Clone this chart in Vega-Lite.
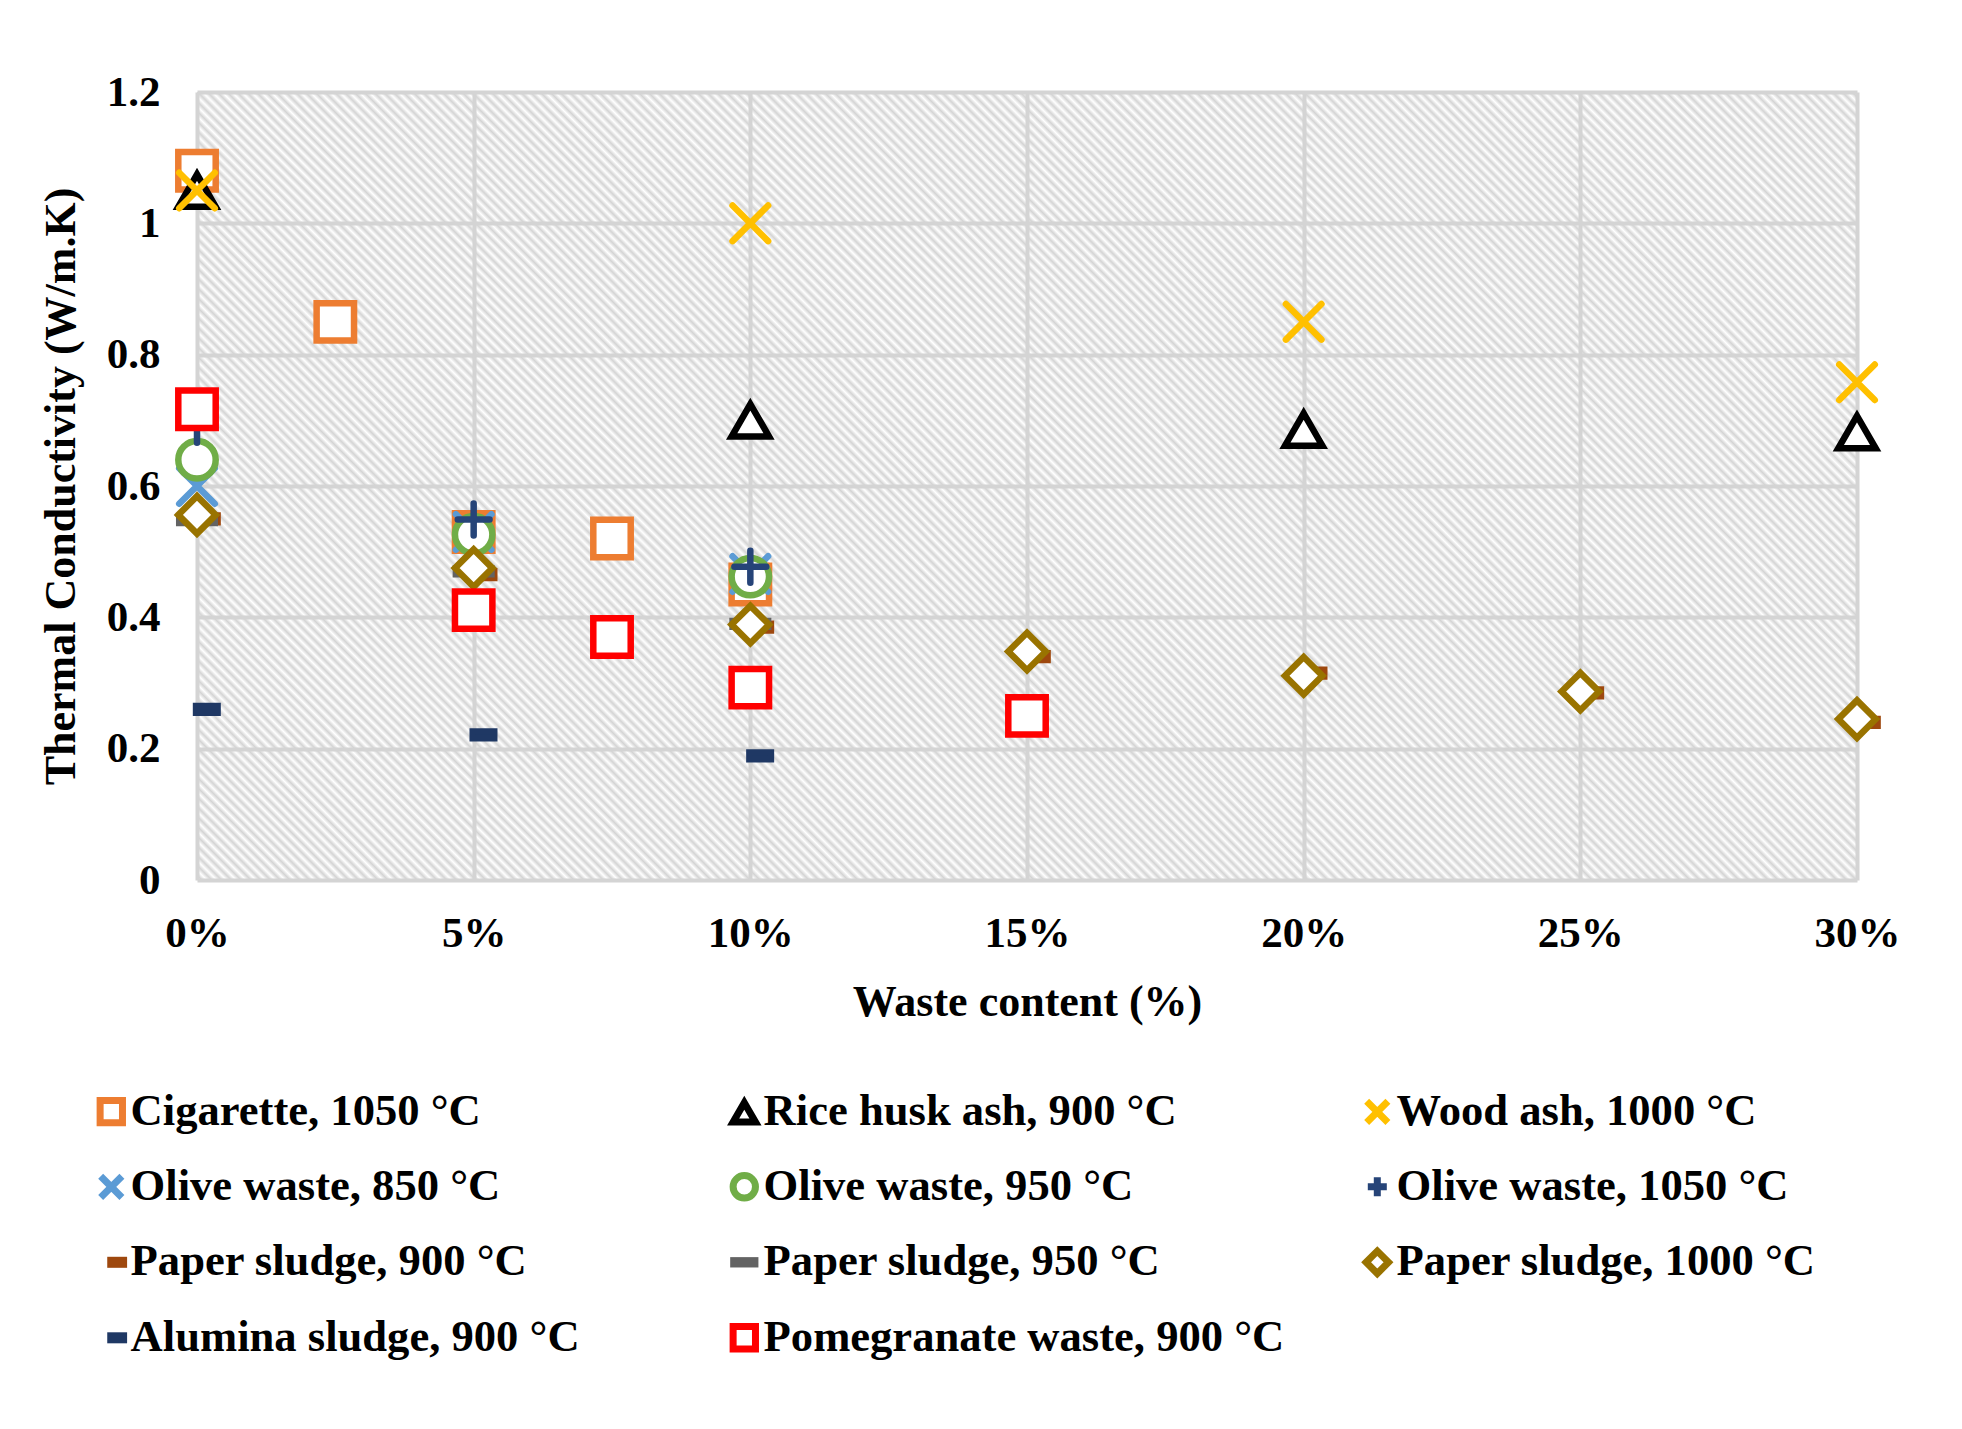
{
"$schema":"https://vega.github.io/schema/vega-lite/v6.json",
"autosize":{"type":"none"},
"padding":{"left":197,"top":92,"right":105,"bottom":549},
"width":1660,
"height":788,
"background":"#ffffff",
"view":{"stroke":null,"fill":{"gradient":"linear","x1":0,"y1":1,"x2":1.2035,"y2":0.429,"stops":[
{"offset":0.000,"color":"#fff"},{"offset":0.002,"color":"#d4d4d4"},{"offset":0.004,"color":"#fff"},{"offset":0.006,"color":"#d4d4d4"},{"offset":0.008,"color":"#fff"},
{"offset":0.010,"color":"#d4d4d4"},{"offset":0.012,"color":"#fff"},{"offset":0.014,"color":"#d4d4d4"},{"offset":0.016,"color":"#fff"},{"offset":0.018,"color":"#d4d4d4"},
{"offset":0.020,"color":"#fff"},{"offset":0.022,"color":"#d4d4d4"},{"offset":0.024,"color":"#fff"},{"offset":0.026,"color":"#d4d4d4"},{"offset":0.028,"color":"#fff"},
{"offset":0.030,"color":"#d4d4d4"},{"offset":0.032,"color":"#fff"},{"offset":0.034,"color":"#d4d4d4"},{"offset":0.036,"color":"#fff"},{"offset":0.038,"color":"#d4d4d4"},
{"offset":0.040,"color":"#fff"},{"offset":0.042,"color":"#d4d4d4"},{"offset":0.044,"color":"#fff"},{"offset":0.046,"color":"#d4d4d4"},{"offset":0.048,"color":"#fff"},
{"offset":0.050,"color":"#d4d4d4"},{"offset":0.052,"color":"#fff"},{"offset":0.054,"color":"#d4d4d4"},{"offset":0.056,"color":"#fff"},{"offset":0.058,"color":"#d4d4d4"},
{"offset":0.060,"color":"#fff"},{"offset":0.062,"color":"#d4d4d4"},{"offset":0.064,"color":"#fff"},{"offset":0.066,"color":"#d4d4d4"},{"offset":0.068,"color":"#fff"},
{"offset":0.070,"color":"#d4d4d4"},{"offset":0.072,"color":"#fff"},{"offset":0.074,"color":"#d4d4d4"},{"offset":0.076,"color":"#fff"},{"offset":0.078,"color":"#d4d4d4"},
{"offset":0.080,"color":"#fff"},{"offset":0.082,"color":"#d4d4d4"},{"offset":0.084,"color":"#fff"},{"offset":0.086,"color":"#d4d4d4"},{"offset":0.088,"color":"#fff"},
{"offset":0.090,"color":"#d4d4d4"},{"offset":0.092,"color":"#fff"},{"offset":0.094,"color":"#d4d4d4"},{"offset":0.096,"color":"#fff"},{"offset":0.098,"color":"#d4d4d4"},
{"offset":0.100,"color":"#fff"},{"offset":0.102,"color":"#d4d4d4"},{"offset":0.104,"color":"#fff"},{"offset":0.106,"color":"#d4d4d4"},{"offset":0.108,"color":"#fff"},
{"offset":0.110,"color":"#d4d4d4"},{"offset":0.112,"color":"#fff"},{"offset":0.114,"color":"#d4d4d4"},{"offset":0.116,"color":"#fff"},{"offset":0.118,"color":"#d4d4d4"},
{"offset":0.120,"color":"#fff"},{"offset":0.122,"color":"#d4d4d4"},{"offset":0.124,"color":"#fff"},{"offset":0.126,"color":"#d4d4d4"},{"offset":0.128,"color":"#fff"},
{"offset":0.130,"color":"#d4d4d4"},{"offset":0.132,"color":"#fff"},{"offset":0.134,"color":"#d4d4d4"},{"offset":0.136,"color":"#fff"},{"offset":0.138,"color":"#d4d4d4"},
{"offset":0.140,"color":"#fff"},{"offset":0.142,"color":"#d4d4d4"},{"offset":0.144,"color":"#fff"},{"offset":0.146,"color":"#d4d4d4"},{"offset":0.148,"color":"#fff"},
{"offset":0.150,"color":"#d4d4d4"},{"offset":0.152,"color":"#fff"},{"offset":0.154,"color":"#d4d4d4"},{"offset":0.156,"color":"#fff"},{"offset":0.158,"color":"#d4d4d4"},
{"offset":0.160,"color":"#fff"},{"offset":0.162,"color":"#d4d4d4"},{"offset":0.164,"color":"#fff"},{"offset":0.166,"color":"#d4d4d4"},{"offset":0.168,"color":"#fff"},
{"offset":0.170,"color":"#d4d4d4"},{"offset":0.172,"color":"#fff"},{"offset":0.174,"color":"#d4d4d4"},{"offset":0.176,"color":"#fff"},{"offset":0.178,"color":"#d4d4d4"},
{"offset":0.180,"color":"#fff"},{"offset":0.182,"color":"#d4d4d4"},{"offset":0.184,"color":"#fff"},{"offset":0.186,"color":"#d4d4d4"},{"offset":0.188,"color":"#fff"},
{"offset":0.190,"color":"#d4d4d4"},{"offset":0.192,"color":"#fff"},{"offset":0.194,"color":"#d4d4d4"},{"offset":0.196,"color":"#fff"},{"offset":0.198,"color":"#d4d4d4"},
{"offset":0.200,"color":"#fff"},{"offset":0.202,"color":"#d4d4d4"},{"offset":0.204,"color":"#fff"},{"offset":0.206,"color":"#d4d4d4"},{"offset":0.208,"color":"#fff"},
{"offset":0.210,"color":"#d4d4d4"},{"offset":0.212,"color":"#fff"},{"offset":0.214,"color":"#d4d4d4"},{"offset":0.216,"color":"#fff"},{"offset":0.218,"color":"#d4d4d4"},
{"offset":0.220,"color":"#fff"},{"offset":0.222,"color":"#d4d4d4"},{"offset":0.224,"color":"#fff"},{"offset":0.226,"color":"#d4d4d4"},{"offset":0.228,"color":"#fff"},
{"offset":0.230,"color":"#d4d4d4"},{"offset":0.232,"color":"#fff"},{"offset":0.234,"color":"#d4d4d4"},{"offset":0.236,"color":"#fff"},{"offset":0.238,"color":"#d4d4d4"},
{"offset":0.240,"color":"#fff"},{"offset":0.242,"color":"#d4d4d4"},{"offset":0.244,"color":"#fff"},{"offset":0.246,"color":"#d4d4d4"},{"offset":0.248,"color":"#fff"},
{"offset":0.250,"color":"#d4d4d4"},{"offset":0.252,"color":"#fff"},{"offset":0.254,"color":"#d4d4d4"},{"offset":0.256,"color":"#fff"},{"offset":0.258,"color":"#d4d4d4"},
{"offset":0.260,"color":"#fff"},{"offset":0.262,"color":"#d4d4d4"},{"offset":0.264,"color":"#fff"},{"offset":0.266,"color":"#d4d4d4"},{"offset":0.268,"color":"#fff"},
{"offset":0.270,"color":"#d4d4d4"},{"offset":0.272,"color":"#fff"},{"offset":0.274,"color":"#d4d4d4"},{"offset":0.276,"color":"#fff"},{"offset":0.278,"color":"#d4d4d4"},
{"offset":0.280,"color":"#fff"},{"offset":0.282,"color":"#d4d4d4"},{"offset":0.284,"color":"#fff"},{"offset":0.286,"color":"#d4d4d4"},{"offset":0.288,"color":"#fff"},
{"offset":0.290,"color":"#d4d4d4"},{"offset":0.292,"color":"#fff"},{"offset":0.294,"color":"#d4d4d4"},{"offset":0.296,"color":"#fff"},{"offset":0.298,"color":"#d4d4d4"},
{"offset":0.300,"color":"#fff"},{"offset":0.302,"color":"#d4d4d4"},{"offset":0.304,"color":"#fff"},{"offset":0.306,"color":"#d4d4d4"},{"offset":0.308,"color":"#fff"},
{"offset":0.310,"color":"#d4d4d4"},{"offset":0.312,"color":"#fff"},{"offset":0.314,"color":"#d4d4d4"},{"offset":0.316,"color":"#fff"},{"offset":0.318,"color":"#d4d4d4"},
{"offset":0.320,"color":"#fff"},{"offset":0.322,"color":"#d4d4d4"},{"offset":0.324,"color":"#fff"},{"offset":0.326,"color":"#d4d4d4"},{"offset":0.328,"color":"#fff"},
{"offset":0.330,"color":"#d4d4d4"},{"offset":0.332,"color":"#fff"},{"offset":0.334,"color":"#d4d4d4"},{"offset":0.336,"color":"#fff"},{"offset":0.338,"color":"#d4d4d4"},
{"offset":0.340,"color":"#fff"},{"offset":0.342,"color":"#d4d4d4"},{"offset":0.344,"color":"#fff"},{"offset":0.346,"color":"#d4d4d4"},{"offset":0.348,"color":"#fff"},
{"offset":0.350,"color":"#d4d4d4"},{"offset":0.352,"color":"#fff"},{"offset":0.354,"color":"#d4d4d4"},{"offset":0.356,"color":"#fff"},{"offset":0.358,"color":"#d4d4d4"},
{"offset":0.360,"color":"#fff"},{"offset":0.362,"color":"#d4d4d4"},{"offset":0.364,"color":"#fff"},{"offset":0.366,"color":"#d4d4d4"},{"offset":0.368,"color":"#fff"},
{"offset":0.370,"color":"#d4d4d4"},{"offset":0.372,"color":"#fff"},{"offset":0.374,"color":"#d4d4d4"},{"offset":0.376,"color":"#fff"},{"offset":0.378,"color":"#d4d4d4"},
{"offset":0.380,"color":"#fff"},{"offset":0.382,"color":"#d4d4d4"},{"offset":0.384,"color":"#fff"},{"offset":0.386,"color":"#d4d4d4"},{"offset":0.388,"color":"#fff"},
{"offset":0.390,"color":"#d4d4d4"},{"offset":0.392,"color":"#fff"},{"offset":0.394,"color":"#d4d4d4"},{"offset":0.396,"color":"#fff"},{"offset":0.398,"color":"#d4d4d4"},
{"offset":0.400,"color":"#fff"},{"offset":0.402,"color":"#d4d4d4"},{"offset":0.404,"color":"#fff"},{"offset":0.406,"color":"#d4d4d4"},{"offset":0.408,"color":"#fff"},
{"offset":0.410,"color":"#d4d4d4"},{"offset":0.412,"color":"#fff"},{"offset":0.414,"color":"#d4d4d4"},{"offset":0.416,"color":"#fff"},{"offset":0.418,"color":"#d4d4d4"},
{"offset":0.420,"color":"#fff"},{"offset":0.422,"color":"#d4d4d4"},{"offset":0.424,"color":"#fff"},{"offset":0.426,"color":"#d4d4d4"},{"offset":0.428,"color":"#fff"},
{"offset":0.430,"color":"#d4d4d4"},{"offset":0.432,"color":"#fff"},{"offset":0.434,"color":"#d4d4d4"},{"offset":0.436,"color":"#fff"},{"offset":0.438,"color":"#d4d4d4"},
{"offset":0.440,"color":"#fff"},{"offset":0.442,"color":"#d4d4d4"},{"offset":0.444,"color":"#fff"},{"offset":0.446,"color":"#d4d4d4"},{"offset":0.448,"color":"#fff"},
{"offset":0.450,"color":"#d4d4d4"},{"offset":0.452,"color":"#fff"},{"offset":0.454,"color":"#d4d4d4"},{"offset":0.456,"color":"#fff"},{"offset":0.458,"color":"#d4d4d4"},
{"offset":0.460,"color":"#fff"},{"offset":0.462,"color":"#d4d4d4"},{"offset":0.464,"color":"#fff"},{"offset":0.466,"color":"#d4d4d4"},{"offset":0.468,"color":"#fff"},
{"offset":0.470,"color":"#d4d4d4"},{"offset":0.472,"color":"#fff"},{"offset":0.474,"color":"#d4d4d4"},{"offset":0.476,"color":"#fff"},{"offset":0.478,"color":"#d4d4d4"},
{"offset":0.480,"color":"#fff"},{"offset":0.482,"color":"#d4d4d4"},{"offset":0.484,"color":"#fff"},{"offset":0.486,"color":"#d4d4d4"},{"offset":0.488,"color":"#fff"},
{"offset":0.490,"color":"#d4d4d4"},{"offset":0.492,"color":"#fff"},{"offset":0.494,"color":"#d4d4d4"},{"offset":0.496,"color":"#fff"},{"offset":0.498,"color":"#d4d4d4"},
{"offset":0.500,"color":"#fff"},{"offset":0.502,"color":"#d4d4d4"},{"offset":0.504,"color":"#fff"},{"offset":0.506,"color":"#d4d4d4"},{"offset":0.508,"color":"#fff"},
{"offset":0.510,"color":"#d4d4d4"},{"offset":0.512,"color":"#fff"},{"offset":0.514,"color":"#d4d4d4"},{"offset":0.516,"color":"#fff"},{"offset":0.518,"color":"#d4d4d4"},
{"offset":0.520,"color":"#fff"},{"offset":0.522,"color":"#d4d4d4"},{"offset":0.524,"color":"#fff"},{"offset":0.526,"color":"#d4d4d4"},{"offset":0.528,"color":"#fff"},
{"offset":0.530,"color":"#d4d4d4"},{"offset":0.532,"color":"#fff"},{"offset":0.534,"color":"#d4d4d4"},{"offset":0.536,"color":"#fff"},{"offset":0.538,"color":"#d4d4d4"},
{"offset":0.540,"color":"#fff"},{"offset":0.542,"color":"#d4d4d4"},{"offset":0.544,"color":"#fff"},{"offset":0.546,"color":"#d4d4d4"},{"offset":0.548,"color":"#fff"},
{"offset":0.550,"color":"#d4d4d4"},{"offset":0.552,"color":"#fff"},{"offset":0.554,"color":"#d4d4d4"},{"offset":0.556,"color":"#fff"},{"offset":0.558,"color":"#d4d4d4"},
{"offset":0.560,"color":"#fff"},{"offset":0.562,"color":"#d4d4d4"},{"offset":0.564,"color":"#fff"},{"offset":0.566,"color":"#d4d4d4"},{"offset":0.568,"color":"#fff"},
{"offset":0.570,"color":"#d4d4d4"},{"offset":0.572,"color":"#fff"},{"offset":0.574,"color":"#d4d4d4"},{"offset":0.576,"color":"#fff"},{"offset":0.578,"color":"#d4d4d4"},
{"offset":0.580,"color":"#fff"},{"offset":0.582,"color":"#d4d4d4"},{"offset":0.584,"color":"#fff"},{"offset":0.586,"color":"#d4d4d4"},{"offset":0.588,"color":"#fff"},
{"offset":0.590,"color":"#d4d4d4"},{"offset":0.592,"color":"#fff"},{"offset":0.594,"color":"#d4d4d4"},{"offset":0.596,"color":"#fff"},{"offset":0.598,"color":"#d4d4d4"},
{"offset":0.600,"color":"#fff"},{"offset":0.602,"color":"#d4d4d4"},{"offset":0.604,"color":"#fff"},{"offset":0.606,"color":"#d4d4d4"},{"offset":0.608,"color":"#fff"},
{"offset":0.610,"color":"#d4d4d4"},{"offset":0.612,"color":"#fff"},{"offset":0.614,"color":"#d4d4d4"},{"offset":0.616,"color":"#fff"},{"offset":0.618,"color":"#d4d4d4"},
{"offset":0.620,"color":"#fff"},{"offset":0.622,"color":"#d4d4d4"},{"offset":0.624,"color":"#fff"},{"offset":0.626,"color":"#d4d4d4"},{"offset":0.628,"color":"#fff"},
{"offset":0.630,"color":"#d4d4d4"},{"offset":0.632,"color":"#fff"},{"offset":0.634,"color":"#d4d4d4"},{"offset":0.636,"color":"#fff"},{"offset":0.638,"color":"#d4d4d4"},
{"offset":0.640,"color":"#fff"},{"offset":0.642,"color":"#d4d4d4"},{"offset":0.644,"color":"#fff"},{"offset":0.646,"color":"#d4d4d4"},{"offset":0.648,"color":"#fff"},
{"offset":0.650,"color":"#d4d4d4"},{"offset":0.652,"color":"#fff"},{"offset":0.654,"color":"#d4d4d4"},{"offset":0.656,"color":"#fff"},{"offset":0.658,"color":"#d4d4d4"},
{"offset":0.660,"color":"#fff"},{"offset":0.662,"color":"#d4d4d4"},{"offset":0.664,"color":"#fff"},{"offset":0.666,"color":"#d4d4d4"},{"offset":0.668,"color":"#fff"},
{"offset":0.670,"color":"#d4d4d4"},{"offset":0.672,"color":"#fff"},{"offset":0.674,"color":"#d4d4d4"},{"offset":0.676,"color":"#fff"},{"offset":0.678,"color":"#d4d4d4"},
{"offset":0.680,"color":"#fff"},{"offset":0.682,"color":"#d4d4d4"},{"offset":0.684,"color":"#fff"},{"offset":0.686,"color":"#d4d4d4"},{"offset":0.688,"color":"#fff"},
{"offset":0.690,"color":"#d4d4d4"},{"offset":0.692,"color":"#fff"},{"offset":0.694,"color":"#d4d4d4"},{"offset":0.696,"color":"#fff"},{"offset":0.698,"color":"#d4d4d4"},
{"offset":0.700,"color":"#fff"},{"offset":0.702,"color":"#d4d4d4"},{"offset":0.704,"color":"#fff"},{"offset":0.706,"color":"#d4d4d4"},{"offset":0.708,"color":"#fff"},
{"offset":0.710,"color":"#d4d4d4"},{"offset":0.712,"color":"#fff"},{"offset":0.714,"color":"#d4d4d4"},{"offset":0.716,"color":"#fff"},{"offset":0.718,"color":"#d4d4d4"},
{"offset":0.720,"color":"#fff"},{"offset":0.722,"color":"#d4d4d4"},{"offset":0.724,"color":"#fff"},{"offset":0.726,"color":"#d4d4d4"},{"offset":0.728,"color":"#fff"},
{"offset":0.730,"color":"#d4d4d4"},{"offset":0.732,"color":"#fff"},{"offset":0.734,"color":"#d4d4d4"},{"offset":0.736,"color":"#fff"},{"offset":0.738,"color":"#d4d4d4"},
{"offset":0.740,"color":"#fff"},{"offset":0.742,"color":"#d4d4d4"},{"offset":0.744,"color":"#fff"},{"offset":0.746,"color":"#d4d4d4"},{"offset":0.748,"color":"#fff"},
{"offset":0.750,"color":"#d4d4d4"},{"offset":0.752,"color":"#fff"},{"offset":0.754,"color":"#d4d4d4"},{"offset":0.756,"color":"#fff"},{"offset":0.758,"color":"#d4d4d4"},
{"offset":0.760,"color":"#fff"},{"offset":0.762,"color":"#d4d4d4"},{"offset":0.764,"color":"#fff"},{"offset":0.766,"color":"#d4d4d4"},{"offset":0.768,"color":"#fff"},
{"offset":0.770,"color":"#d4d4d4"},{"offset":0.772,"color":"#fff"},{"offset":0.774,"color":"#d4d4d4"},{"offset":0.776,"color":"#fff"},{"offset":0.778,"color":"#d4d4d4"},
{"offset":0.780,"color":"#fff"},{"offset":0.782,"color":"#d4d4d4"},{"offset":0.784,"color":"#fff"},{"offset":0.786,"color":"#d4d4d4"},{"offset":0.788,"color":"#fff"},
{"offset":0.790,"color":"#d4d4d4"},{"offset":0.792,"color":"#fff"},{"offset":0.794,"color":"#d4d4d4"},{"offset":0.796,"color":"#fff"},{"offset":0.798,"color":"#d4d4d4"},
{"offset":0.800,"color":"#fff"},{"offset":0.802,"color":"#d4d4d4"},{"offset":0.804,"color":"#fff"},{"offset":0.806,"color":"#d4d4d4"},{"offset":0.808,"color":"#fff"},
{"offset":0.810,"color":"#d4d4d4"},{"offset":0.812,"color":"#fff"},{"offset":0.814,"color":"#d4d4d4"},{"offset":0.816,"color":"#fff"},{"offset":0.818,"color":"#d4d4d4"},
{"offset":0.820,"color":"#fff"},{"offset":0.822,"color":"#d4d4d4"},{"offset":0.824,"color":"#fff"},{"offset":0.826,"color":"#d4d4d4"},{"offset":0.828,"color":"#fff"},
{"offset":0.830,"color":"#d4d4d4"},{"offset":0.832,"color":"#fff"},{"offset":0.834,"color":"#d4d4d4"},{"offset":0.836,"color":"#fff"},{"offset":0.838,"color":"#d4d4d4"},
{"offset":0.840,"color":"#fff"},{"offset":0.842,"color":"#d4d4d4"},{"offset":0.844,"color":"#fff"},{"offset":0.846,"color":"#d4d4d4"},{"offset":0.848,"color":"#fff"},
{"offset":0.850,"color":"#d4d4d4"},{"offset":0.852,"color":"#fff"},{"offset":0.854,"color":"#d4d4d4"},{"offset":0.856,"color":"#fff"},{"offset":0.858,"color":"#d4d4d4"},
{"offset":0.860,"color":"#fff"},{"offset":0.862,"color":"#d4d4d4"},{"offset":0.864,"color":"#fff"},{"offset":0.866,"color":"#d4d4d4"},{"offset":0.868,"color":"#fff"},
{"offset":0.870,"color":"#d4d4d4"},{"offset":0.872,"color":"#fff"},{"offset":0.874,"color":"#d4d4d4"},{"offset":0.876,"color":"#fff"},{"offset":0.878,"color":"#d4d4d4"},
{"offset":0.880,"color":"#fff"},{"offset":0.882,"color":"#d4d4d4"},{"offset":0.884,"color":"#fff"},{"offset":0.886,"color":"#d4d4d4"},{"offset":0.888,"color":"#fff"},
{"offset":0.890,"color":"#d4d4d4"},{"offset":0.892,"color":"#fff"},{"offset":0.894,"color":"#d4d4d4"},{"offset":0.896,"color":"#fff"},{"offset":0.898,"color":"#d4d4d4"},
{"offset":0.900,"color":"#fff"},{"offset":0.902,"color":"#d4d4d4"},{"offset":0.904,"color":"#fff"},{"offset":0.906,"color":"#d4d4d4"},{"offset":0.908,"color":"#fff"},
{"offset":0.910,"color":"#d4d4d4"},{"offset":0.912,"color":"#fff"},{"offset":0.914,"color":"#d4d4d4"},{"offset":0.916,"color":"#fff"},{"offset":0.918,"color":"#d4d4d4"},
{"offset":0.920,"color":"#fff"},{"offset":0.922,"color":"#d4d4d4"},{"offset":0.924,"color":"#fff"},{"offset":0.926,"color":"#d4d4d4"},{"offset":0.928,"color":"#fff"},
{"offset":0.930,"color":"#d4d4d4"},{"offset":0.932,"color":"#fff"},{"offset":0.934,"color":"#d4d4d4"},{"offset":0.936,"color":"#fff"},{"offset":0.938,"color":"#d4d4d4"},
{"offset":0.940,"color":"#fff"},{"offset":0.942,"color":"#d4d4d4"},{"offset":0.944,"color":"#fff"},{"offset":0.946,"color":"#d4d4d4"},{"offset":0.948,"color":"#fff"},
{"offset":0.950,"color":"#d4d4d4"},{"offset":0.952,"color":"#fff"},{"offset":0.954,"color":"#d4d4d4"},{"offset":0.956,"color":"#fff"},{"offset":0.958,"color":"#d4d4d4"},
{"offset":0.960,"color":"#fff"},{"offset":0.962,"color":"#d4d4d4"},{"offset":0.964,"color":"#fff"},{"offset":0.966,"color":"#d4d4d4"},{"offset":0.968,"color":"#fff"},
{"offset":0.970,"color":"#d4d4d4"},{"offset":0.972,"color":"#fff"},{"offset":0.974,"color":"#d4d4d4"},{"offset":0.976,"color":"#fff"},{"offset":0.978,"color":"#d4d4d4"},
{"offset":0.980,"color":"#fff"},{"offset":0.982,"color":"#d4d4d4"},{"offset":0.984,"color":"#fff"},{"offset":0.986,"color":"#d4d4d4"},{"offset":0.988,"color":"#fff"},
{"offset":0.990,"color":"#d4d4d4"},{"offset":0.992,"color":"#fff"},{"offset":0.994,"color":"#d4d4d4"},{"offset":0.996,"color":"#fff"},{"offset":0.998,"color":"#d4d4d4"},
{"offset":1,"color":"#fff"}
]}},
"data":{"values":[
{"series":"Cigarette, 1050 °C","content":0,"k":1.08},
{"series":"Cigarette, 1050 °C","content":2.5,"k":0.85},
{"series":"Cigarette, 1050 °C","content":5,"k":0.53},
{"series":"Cigarette, 1050 °C","content":7.5,"k":0.52},
{"series":"Cigarette, 1050 °C","content":10,"k":0.45},
{"series":"Rice husk ash, 900 °C","content":0,"k":1.05},
{"series":"Rice husk ash, 900 °C","content":10,"k":0.70},
{"series":"Rice husk ash, 900 °C","content":20,"k":0.686},
{"series":"Rice husk ash, 900 °C","content":30,"k":0.682},
{"series":"Wood ash, 1000 °C","content":0,"k":1.05},
{"series":"Wood ash, 1000 °C","content":10,"k":1.0},
{"series":"Wood ash, 1000 °C","content":20,"k":0.85},
{"series":"Wood ash, 1000 °C","content":30,"k":0.758},
{"series":"Olive waste, 850 °C","content":0,"k":0.60},
{"series":"Olive waste, 850 °C","content":5,"k":0.53},
{"series":"Olive waste, 850 °C","content":10,"k":0.466},
{"series":"Olive waste, 950 °C","content":0,"k":0.64},
{"series":"Olive waste, 950 °C","content":5,"k":0.526},
{"series":"Olive waste, 950 °C","content":10,"k":0.462},
{"series":"Olive waste, 1050 °C","content":0,"k":0.69},
{"series":"Olive waste, 1050 °C","content":5,"k":0.549},
{"series":"Olive waste, 1050 °C","content":10,"k":0.477},
{"series":"Paper sludge, 900 °C","content":0,"k":0.55},
{"series":"Paper sludge, 900 °C","content":5,"k":0.465},
{"series":"Paper sludge, 900 °C","content":10,"k":0.385},
{"series":"Paper sludge, 900 °C","content":15,"k":0.34},
{"series":"Paper sludge, 900 °C","content":20,"k":0.315},
{"series":"Paper sludge, 900 °C","content":25,"k":0.285},
{"series":"Paper sludge, 900 °C","content":30,"k":0.24},
{"series":"Paper sludge, 950 °C","content":0,"k":0.548},
{"series":"Paper sludge, 950 °C","content":5,"k":0.47},
{"series":"Paper sludge, 950 °C","content":10,"k":0.39},
{"series":"Paper sludge, 1000 °C","content":0,"k":0.556},
{"series":"Paper sludge, 1000 °C","content":5,"k":0.475},
{"series":"Paper sludge, 1000 °C","content":10,"k":0.389},
{"series":"Paper sludge, 1000 °C","content":15,"k":0.348},
{"series":"Paper sludge, 1000 °C","content":20,"k":0.311},
{"series":"Paper sludge, 1000 °C","content":25,"k":0.287},
{"series":"Paper sludge, 1000 °C","content":30,"k":0.245},
{"series":"Alumina sludge, 900 °C","content":0,"k":0.26},
{"series":"Alumina sludge, 900 °C","content":5,"k":0.221},
{"series":"Alumina sludge, 900 °C","content":10,"k":0.189},
{"series":"Pomegranate waste, 900 °C","content":0,"k":0.717},
{"series":"Pomegranate waste, 900 °C","content":5,"k":0.411},
{"series":"Pomegranate waste, 900 °C","content":7.5,"k":0.37},
{"series":"Pomegranate waste, 900 °C","content":10,"k":0.293},
{"series":"Pomegranate waste, 900 °C","content":15,"k":0.25}
]},
"mark":{"type":"point","filled":true,"opacity":1,"size":1400,"strokeWidth":6.5,"strokeCap":"round"},
"encoding":{
"x":{"field":"content","type":"quantitative","scale":{"domain":[0,30],"nice":false,"zero":false},
"axis":{"values":[0,5,10,15,20,25,30],"labelExpr":"datum.value + '%'","title":"Waste content (%)"}},
"y":{"field":"k","type":"quantitative","scale":{"domain":[0,1.2],"nice":false},
"axis":{"values":[0,0.2,0.4,0.6,0.8,1,1.2],"format":"~g","title":"Thermal Conductivity (W/m.K)"}},
"stroke":{"field":"series","type":"nominal","legend":{"title":null},
"scale":{"domain":["Cigarette, 1050 °C","Rice husk ash, 900 °C","Wood ash, 1000 °C","Olive waste, 850 °C","Olive waste, 950 °C","Olive waste, 1050 °C","Paper sludge, 900 °C","Paper sludge, 950 °C","Paper sludge, 1000 °C","Alumina sludge, 900 °C","Pomegranate waste, 900 °C"],
"range":["#ED7D31","#000000","#FFC000","#5B9BD5","#70AD47","#264478","#9E480E","#636363","#997300","#1F3864","#FF0000"]}},
"fill":{"field":"series","type":"nominal","legend":{"title":null},
"scale":{"domain":["Cigarette, 1050 °C","Rice husk ash, 900 °C","Wood ash, 1000 °C","Olive waste, 850 °C","Olive waste, 950 °C","Olive waste, 1050 °C","Paper sludge, 900 °C","Paper sludge, 950 °C","Paper sludge, 1000 °C","Alumina sludge, 900 °C","Pomegranate waste, 900 °C"],
"range":["#ffffff","#ffffff","#ffffff","#ffffff","#ffffff","#ffffff","#9E480E","#636363","#ffffff","#1F3864","#ffffff"]}},
"shape":{"field":"series","type":"nominal","legend":{"title":null},
"scale":{"domain":["Cigarette, 1050 °C","Rice husk ash, 900 °C","Wood ash, 1000 °C","Olive waste, 850 °C","Olive waste, 950 °C","Olive waste, 1050 °C","Paper sludge, 900 °C","Paper sludge, 950 °C","Paper sludge, 1000 °C","Alumina sludge, 900 °C","Pomegranate waste, 900 °C"],
"range":["square","triangle-up","M-0.95,-0.95L0.95,0.95M0.95,-0.95L-0.95,0.95","M-0.95,-0.95L0.95,0.95M0.95,-0.95L-0.95,0.95","circle","M-0.85,0H0.85M0,-0.85V0.85","M-0.05,-0.18H1.1V0.18H-0.05Z","M-0.95,-0.15H0.95V0.15H-0.95Z","diamond","M-0.05,-0.18H1.1V0.18H-0.05Z","square"]}}
},
"config":{
"font":"Liberation Serif",
"axis":{"labelFont":"Liberation Serif","labelFontWeight":"bold","labelColor":"#000000","labelFontSize":43,"titleFont":"Liberation Serif","titleFontWeight":"bold","titleColor":"#000000","titleFontSize":44,"ticks":false,"tickSize":0,"domain":false,"grid":true,"gridColor":"#d4d4d4","gridWidth":4,"labelFlush":false,"labelOverlap":false},
"axisX":{"labelPadding":32,"titlePadding":25},
"axisY":{"labelPadding":37,"titlePadding":23},
"legend":{"orient":"none","direction":"horizontal","legendX":-108,"legendY":997,"columns":3,"gridAlign":"all","columnPadding":67,"rowPadding":24.5,"symbolSize":500,"symbolStrokeWidth":7,"labelFont":"Liberation Serif","labelFontWeight":"bold","labelFontSize":44.6,"labelColor":"#000000","labelOffset":-3,"labelLimit":0,"padding":0}
}
}
